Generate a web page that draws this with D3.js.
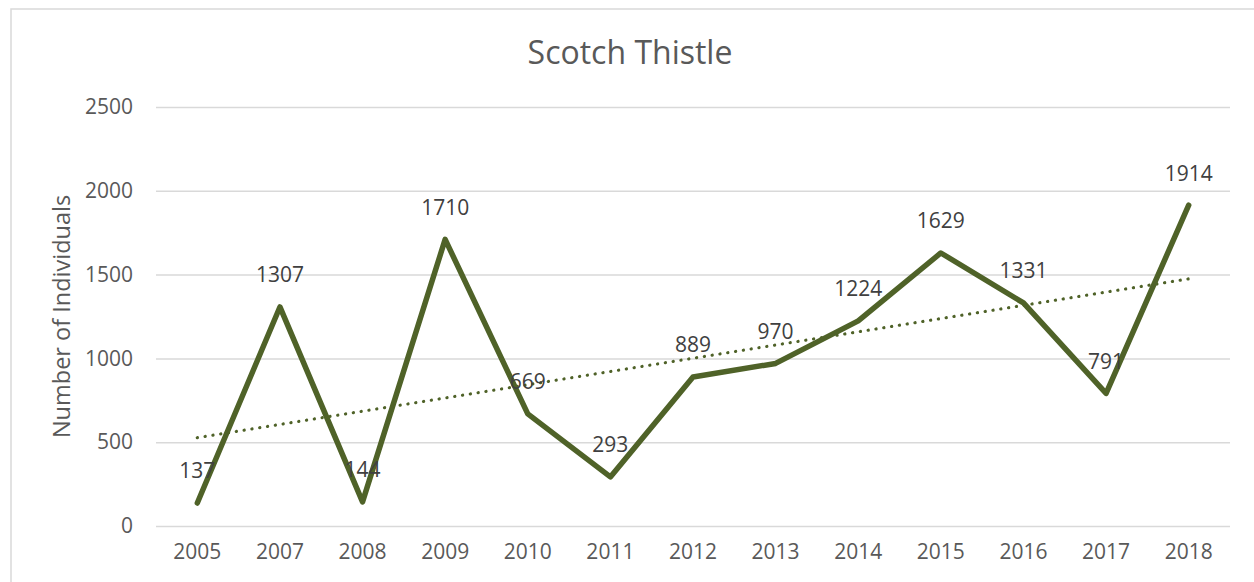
<!DOCTYPE html>
<html>
<head>
<meta charset="utf-8">
<script src="https://cdn.jsdelivr.net/npm/d3@7"></script>
<style>
  body { margin: 0; background: #fff; }
  text { font-family: "Open Sans", sans-serif; }
</style>
</head>
<body>
<script>
var width = 1254,
    height = 582;

// data
var years = ["2005", "2007", "2008", "2009", "2010", "2011", "2012", "2013", "2014", "2015", "2016", "2017", "2018"];
var counts = [137, 1307, 144, 1710, 669, 293, 889, 970, 1224, 1629, 1331, 791, 1914];
var yTicks = [0, 500, 1000, 1500, 2000, 2500];

var lineColor = "#4f6228",
    gridColor = "#d9d9d9",
    textColor = "#595959";

var margin = {left: 156, right: 24, top: 107, bottom: 56};

var svg = d3.select("body").append("svg")
    .attr("width", width)
    .attr("height", height);

// chart frame (runs off the right/bottom edge like the screenshot)
svg.append("rect")
    .attr("x", 11).attr("y", 9)
    .attr("width", 1300).attr("height", 700)
    .attr("fill", "none")
    .attr("stroke", gridColor)
    .attr("stroke-width", 1.5);

var x = d3.scaleBand()
    .domain(years)
    .range([margin.left, width - margin.right]);

var y = d3.scaleLinear()
    .domain([0, 2500])
    .range([height - margin.bottom, margin.top]);

var cx = function(d, i) { return x(years[i]) + x.bandwidth() / 2; };

/* ============================ GRID + AXES ============================ */
var yAxis = svg.append("g")
    .attr("transform", "translate(" + margin.left + ",0)")
    .call(d3.axisLeft(y).tickValues(yTicks).tickFormat(d3.format("d"))
      .tickSize(-(width - margin.left - margin.right)).tickPadding(23));
yAxis.select(".domain").remove();
yAxis.selectAll(".tick line").attr("stroke", gridColor).attr("stroke-width", 1.5);
yAxis.selectAll(".tick text")
    .attr("fill", textColor)
    .style("font-size", "21px")
    .style("font-family", "Open Sans, sans-serif");

var xAxis = svg.append("g")
    .attr("transform", "translate(0," + (height - margin.bottom) + ")")
    .call(d3.axisBottom(x).tickSize(0).tickPadding(18));
xAxis.select(".domain").remove();
xAxis.selectAll(".tick text")
    .attr("fill", textColor)
    .style("font-size", "21px")
    .style("font-family", "Open Sans, sans-serif");

svg.append("text")
    .attr("transform", "translate(62," + ((margin.top + height - margin.bottom) / 2) + ") rotate(-90)")
    .attr("text-anchor", "middle")
    .attr("dy", "0.35em")
    .attr("fill", textColor)
    .style("font-size", "23.5px")
    .text("Number of Individuals");

svg.append("text")
    .attr("x", 630).attr("y", 53)
    .attr("text-anchor", "middle")
    .attr("dy", "0.35em")
    .attr("fill", textColor)
    .style("font-size", "32px")
    .text("Scotch Thistle");

/* ============================ TREND (least squares) ============================ */
var n = counts.length,
    mx = d3.mean(counts, function(d, i) { return i; }),
    my = d3.mean(counts),
    sxy = d3.sum(counts, function(d, i) { return (i - mx) * (d - my); }),
    sxx = d3.sum(counts, function(d, i) { return (i - mx) * (i - mx); }),
    slope = sxy / sxx,
    icpt = my - slope * mx;

svg.append("line")
    .attr("x1", cx(null, 0)).attr("y1", y(icpt))
    .attr("x2", cx(null, n - 1)).attr("y2", y(icpt + slope * (n - 1)))
    .attr("stroke", lineColor)
    .attr("stroke-width", 3.2)
    .attr("stroke-linecap", "round")
    .attr("stroke-dasharray", "0.1 7.8");

/* ============================ SERIES ============================ */
var line = d3.line()
    .x(cx)
    .y(function(d) { return y(d); });

svg.append("path")
    .datum(counts)
    .attr("d", line)
    .attr("fill", "none")
    .attr("stroke", lineColor)
    .attr("stroke-width", 5.5)
    .attr("stroke-linejoin", "round")
    .attr("stroke-linecap", "round");

svg.selectAll(".lbl")
    .data(counts)
  .enter().append("text")
    .attr("class", "lbl")
    .attr("x", cx)
    .attr("y", function(d) { return y(d) - 32; })
    .attr("dy", "0.35em")
    .attr("text-anchor", "middle")
    .attr("fill", "#404040")
    .style("font-size", "21px")
    .text(function(d) { return d; });
</script>
</body>
</html>
